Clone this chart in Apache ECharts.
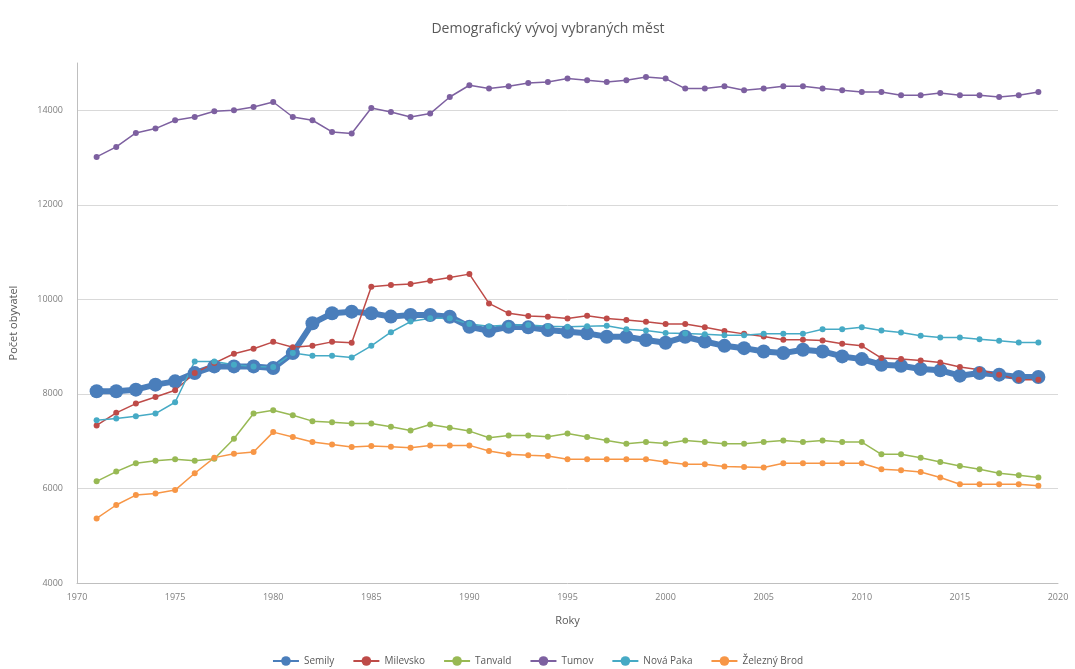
<!DOCTYPE html>
<html><head><meta charset="utf-8">
<script src="https://cdn.jsdelivr.net/npm/echarts@6/dist/echarts.min.js"></script>
<style>html,body{margin:0;padding:0;background:#fff}#c{width:1075px;height:669px}</style>
</head><body><div id="c"></div>
<script>
const years = [];
for (let y = 1971; y <= 2019; y++) years.push(y);
const yTicks = [4000, 6000, 8000, 10000, 12000, 14000];
const xTicks = [1970, 1975, 1980, 1985, 1990, 1995, 2000, 2005, 2010, 2015, 2020];

const semily = [8055,8055,8090,8196,8266,8440,8582,8582,8582,8547,
  8863,9495,9705,9740,9705,9635,9668,9668,9632,9421,
  9336,9421,9408,9351,9315,9281,9209,9209,9140,9083,
  9209,9108,9017,8968,8898,8863,8933,8898,8793,8736,
  8617,8596,8526,8498,8386,8442,8407,8357,8357];
const milevsko = [7332,7599,7796,7936,8077,8442,8652,8849,8954,9101,
  8989,9017,9101,9080,10267,10302,10323,10393,10463,10534,
  9915,9704,9648,9633,9597,9654,9597,9562,9527,9478,
  9478,9410,9333,9270,9214,9144,9144,9130,9059,9017,
  8758,8736,8708,8666,8568,8512,8407,8301,8301];
const tanvald = [6150,6357,6532,6588,6616,6588,6630,7051,7585,7655,
  7550,7424,7403,7375,7375,7304,7227,7354,7283,7213,
  7073,7122,7122,7094,7164,7087,7016,6946,6981,6953,
  7016,6981,6947,6947,6982,7017,6982,7017,6982,6982,
  6722,6722,6651,6560,6476,6406,6322,6279,6230];
const tumov = [13013,13224,13520,13613,13789,13858,13979,14000,14070,14175,
  13858,13789,13541,13507,14049,13964,13858,13930,14281,14529,
  14459,14507,14577,14598,14670,14634,14598,14634,14704,14670,
  14459,14459,14507,14423,14459,14507,14507,14459,14423,14387,
  14387,14317,14317,14366,14317,14317,14281,14317,14387];
const novaPaka = [7445,7480,7529,7585,7824,8687,8687,8617,8582,8568,
  8863,8807,8807,8772,9017,9305,9530,9600,9600,9480,
  9430,9460,9460,9430,9420,9430,9440,9370,9340,9290,
  9280,9260,9240,9240,9270,9270,9270,9368,9368,9410,
  9340,9298,9228,9193,9193,9158,9123,9087,9087];
const zeleznyBrod = [5366,5650,5860,5895,5965,6322,6652,6736,6771,7192,
  7087,6981,6932,6876,6897,6883,6862,6911,6911,6911,
  6792,6722,6701,6687,6616,6616,6616,6616,6616,6560,
  6511,6511,6462,6455,6441,6532,6532,6532,6532,6532,
  6406,6385,6350,6230,6090,6090,6090,6090,6055];

const seriesNames = ['Semily','Milevsko','Tanvald','Tumov','Nová Paka','Železný Brod'];
const seriesValues = [semily, milevsko, tanvald, tumov, novaPaka, zeleznyBrod];
const colors = ['#4a7ebb','#be4b48','#98b954','#7d60a0','#46aac5','#f79646'];

const pair = arr => arr.map((v, i) => [years[i], v]);
const font = '"Open Sans", "Liberation Sans", sans-serif';

const series = seriesNames.map((name, k) => {
  const thick = k === 0;
  return {
    name, type: 'line', data: pair(seriesValues[k]),
    symbol: 'circle', symbolSize: thick ? 14 : 6,
    showSymbol: true,
    lineStyle: { width: thick ? 6 : 1.5, color: colors[k] },
    itemStyle: { color: colors[k], borderWidth: 0 },
    emphasis: { disabled: true },
    animation: false
  };
});

const chart = echarts.init(document.getElementById('c'), null, { renderer: 'canvas' });
chart.setOption({
  backgroundColor: '#ffffff',
  color: colors,
  animation: false,
  title: {
    text: 'Demografický vývoj vybraných měst',
    left: 543, top: 17, textAlign: 'center',
    textStyle: { fontFamily: font, fontSize: 14, fontWeight: 'normal', color: '#595959' }
  },
  legend: {
    data: seriesNames,
    left: 'center', bottom: -2,
    itemWidth: 26, itemHeight: 12, itemGap: 18,
    textStyle: { fontFamily: font, fontSize: 10, color: '#595959' }
  },
  grid: { left: 77, right: 17, top: 63, bottom: 86, containLabel: false },
  xAxis: {
    type: 'value', min: xTicks[0], max: xTicks[xTicks.length - 1], interval: 5,
    name: 'Roky', nameLocation: 'middle', nameGap: 32,
    nameTextStyle: { fontFamily: font, fontSize: 11, color: '#595959' },
    axisLine: { show: true, lineStyle: { color: '#bfbfbf', width: 1 } },
    axisTick: { show: false },
    axisLabel: { fontFamily: font, fontSize: 9, color: '#7f7f7f', margin: 10,
      formatter: v => String(v) },
    splitLine: { show: false }
  },
  yAxis: {
    type: 'value', min: yTicks[0], max: 15000, interval: 2000,
    name: 'Počet obyvatel', nameLocation: 'middle', nameGap: 58, nameRotate: 90,
    nameTextStyle: { fontFamily: font, fontSize: 11, color: '#595959' },
    axisLine: { show: true, lineStyle: { color: '#bfbfbf', width: 1 } },
    axisTick: { show: false },
    axisLabel: { fontFamily: font, fontSize: 9, color: '#7f7f7f', margin: 14, showMaxLabel: false,
      formatter: v => (yTicks.indexOf(v) >= 0 ? String(v) : '') },
    splitLine: { show: true, showMinLine: false, showMaxLine: false, lineStyle: { color: '#d9d9d9', width: 1 } }
  },
  series
});
</script></body></html>
